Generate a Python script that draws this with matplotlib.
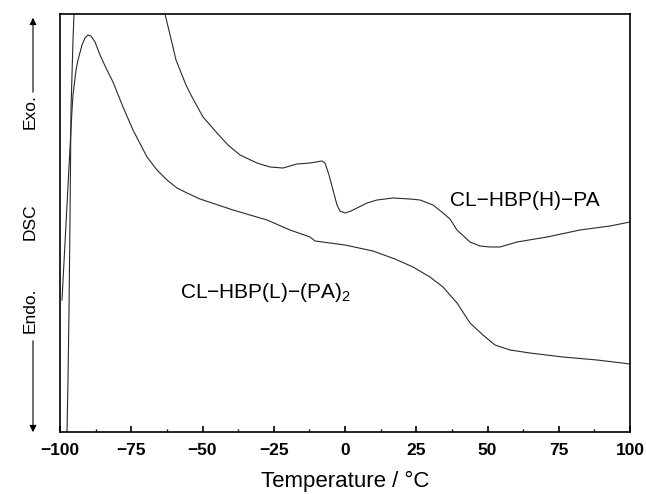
import matplotlib
matplotlib.use("Agg")
import matplotlib.pyplot as plt
from matplotlib.ticker import MultipleLocator

plt.rcParams['font.family'] = ['Liberation Sans', 'DejaVu Sans']
plt.rcParams['mathtext.fontset'] = 'custom'
plt.rcParams['mathtext.rm'] = 'Liberation Sans'
plt.rcParams['mathtext.it'] = 'Liberation Sans'

# CL-HBP(L)-(PA)2 curve (temperature in °C, DSC signal in arbitrary units)
temp_L = [-99.30, -95.79, -95.44, -94.39, -93.68, -92.28, -91.23, -90.18, -89.12, -87.72,
          -85.96, -83.86, -81.40, -77.89, -74.39, -69.47, -65.96, -62.46, -58.95, -55.44, -50.88,
          -39.30, -27.37, -19.30, -12.28, -10.53, -5.26, 0.0, 9.82, 17.54, 23.86,
          29.82, 34.39, 39.30, 43.86, 48.42, 52.63, 57.89, 64.91, 76.49, 88.42, 100.0]
dsc_L = [132, 322, 337, 362, 372, 387, 394, 397, 396, 390,
         377, 364, 350, 325, 302, 275, 262, 252, 244, 239, 233,
         222, 212, 202, 195, 191, 189, 187, 181, 173, 165,
         155, 145, 129, 109, 97, 87, 82, 79, 75, 72, 68]

# CL-HBP(H)-PA curve
temp_H = [-97.54, -97.19, -96.84, -96.49, -96.14, -95.44, -95.09, -94.39, -63.70, -63.16,
          -60.70, -59.30, -57.89, -55.79, -53.68, -49.82, -44.91, -41.05, -36.84,
          -30.88, -26.32, -21.75, -16.84, -12.28, -8.07, -7.02, -5.61, -4.21, -2.81,
          -1.75, 0.0, 2.11, 4.21, 7.72, 11.23, 16.84, 22.81, 26.32, 30.88,
          34.39, 36.84, 39.30, 43.86, 47.37, 50.88, 54.39, 60.35, 70.88, 82.46, 93.0, 100.0]
dsc_H = [0, 52, 122, 212, 322, 392, 418, 472, 440, 418,
         389, 372, 362, 347, 335, 315, 299, 287, 277,
         269, 265, 264, 268, 269, 271, 269, 257, 242, 227,
         221, 219, 221, 224, 229, 232, 234, 233, 232, 227,
         219, 213, 202, 190, 186, 185, 185, 190, 195, 202, 206, 210]

x_ticks = [-100, -75, -50, -25, 0, 25, 50, 75, 100]
label_H = "CL\u2212HBP(H)\u2212PA"
label_L = "CL\u2212HBP(L)\u2212(PA)$_2$"

fig = plt.figure(figsize=(6.46, 4.94), dpi=100)
ax = fig.add_axes([60/646, 62/494, 570/646, 418/494])

lc = '#2a2a2a'
ax.plot(temp_L, dsc_L, color=lc, lw=0.8)
ax.plot(temp_H, dsc_H, color=lc, lw=0.8)

ax.set_xlim(-100, 100)
ax.set_ylim(0, 418)
ax.set_xticks(x_ticks)
ax.set_xticklabels([("\u2212%d" % -t) if t < 0 else str(t) for t in x_ticks],
                   fontsize=12.5, fontweight='bold')
ax.xaxis.set_minor_locator(MultipleLocator(12.5))
ax.tick_params(axis='x', which='major', direction='in', length=4, width=1.2, pad=8, top=False)
ax.tick_params(axis='x', which='minor', direction='in', length=2.5, width=1.0, top=False)
ax.set_yticks([])
for s in ax.spines.values():
    s.set_linewidth(1.2)

ax.set_xlabel("Temperature / \u00b0C", fontsize=16, labelpad=9)

ax.text(36.8, 232, label_H, fontsize=15, ha='left', va='center')
ax.text(-57.9, 140, label_L, fontsize=15, ha='left', va='center')

# left-side DSC annotation (figure pixel coords)
W, H = 646, 494
def fy(py):
    return 1 - py / H
fig.text(30/W, fy(222), "DSC", rotation=90, fontsize=12.5, ha='center', va='center')
fig.text(30/W, fy(112), "Exo.", rotation=90, fontsize=12.5, ha='center', va='center')
fig.text(30/W, fy(310), "Endo.", rotation=90, fontsize=12.5, ha='center', va='center')
fig.add_artist(matplotlib.patches.FancyArrowPatch((33/W, fy(95)), (33/W, fy(15)),
               transform=fig.transFigure, arrowstyle='-|>', mutation_scale=10,
               lw=0.8, color='black'))
fig.add_artist(matplotlib.patches.FancyArrowPatch((33/W, fy(338)), (33/W, fy(435)),
               transform=fig.transFigure, arrowstyle='-|>', mutation_scale=10,
               lw=0.8, color='black'))

fig.savefig("out.png", dpi=100)
